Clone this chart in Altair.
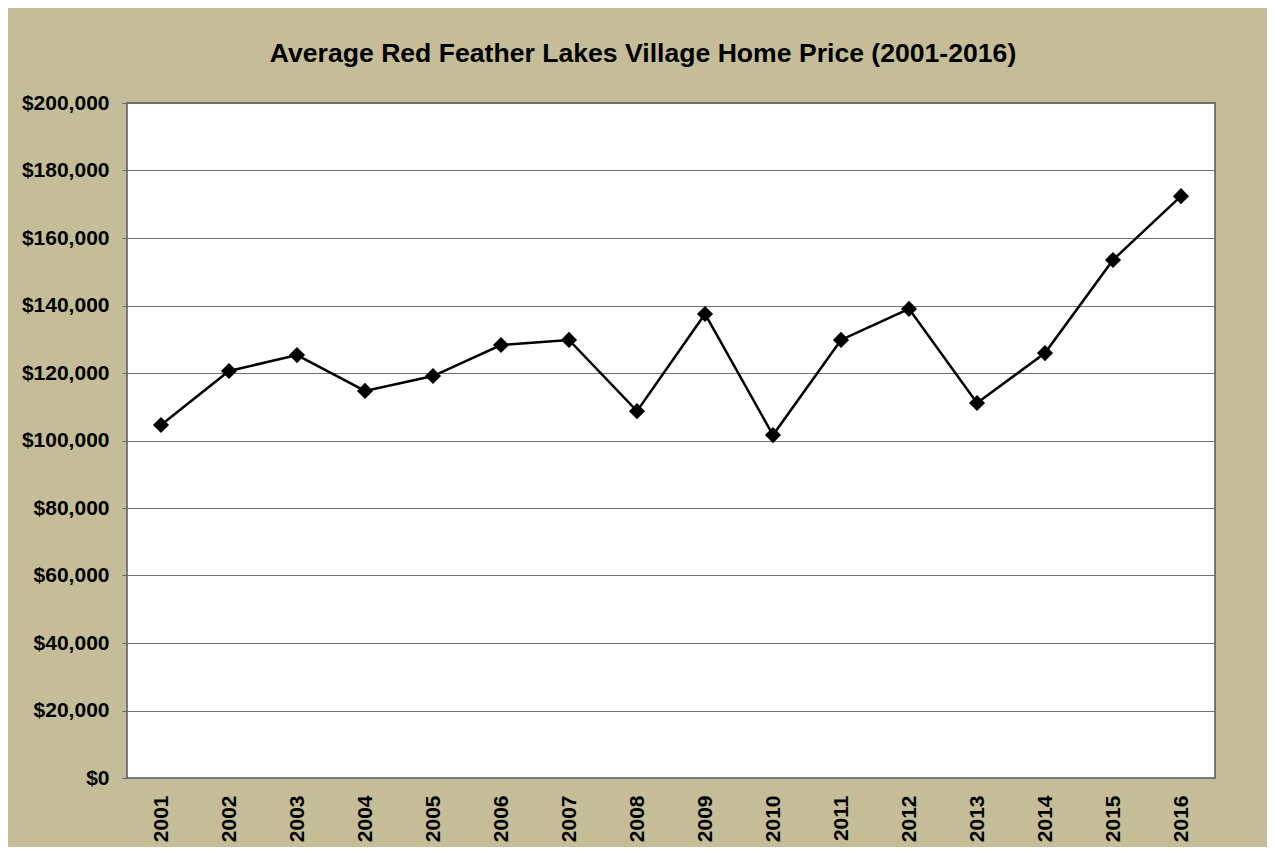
import altair as alt
import pandas as pd

years = ["2001", "2002", "2003", "2004", "2005", "2006", "2007", "2008",
         "2009", "2010", "2011", "2012", "2013", "2014", "2015", "2016"]
prices = [104600, 120600, 125300, 114700, 119100, 128300, 129800, 108700,
          137500, 101600, 129800, 139000, 111100, 125900, 153500, 172400]

df = pd.DataFrame({"year": years, "price": prices})

FONT = "Liberation Sans"

x = alt.X("year:O", sort=years,
          scale=alt.Scale(type="point", padding=0.5),
          axis=alt.Axis(title=None, labelAngle=-90, labelAlign="right", labelBaseline="middle",
                        ticks=False, labelPadding=17, domain=False,
                        labelFont=FONT, labelFontSize=21, labelFontWeight="bold", labelColor="black"))
y = alt.Y("price:Q",
          scale=alt.Scale(domain=[0, 200000], nice=False),
          axis=alt.Axis(title=None, values=list(range(0, 200001, 20000)), format="$,d",
                        tickSize=5, tickColor="#666666", labelPadding=13, domain=False,
                        grid=True, gridColor="#707070", gridWidth=1,
                        labelFont=FONT, labelFontSize=21, labelFontWeight="bold", labelColor="black"))

line = alt.Chart(df).mark_line(color="black", strokeWidth=2.5).encode(x=x, y=y)
pts = alt.Chart(df).mark_point(shape="diamond", filled=True, color="black", size=260, opacity=1).encode(x=x, y=y)

chart = (line + pts).properties(
    width=1088, height=675,
    title=alt.TitleParams("Average Red Feather Lakes Village Home Price (2001-2016)",
                          font=FONT, fontSize=26.6, fontWeight="bold", color="black",
                          anchor="middle", dx=-28, offset=24),
    background="#C4BD97",
    padding={"left": 119, "top": 95, "right": 52, "bottom": 69},
    autosize=alt.AutoSizeParams(type="none"),
).configure_view(fill="white", stroke="#555555", strokeWidth=1.5)

chart.save("out.html", embed_options={"renderer": "svg", "actions": False})
